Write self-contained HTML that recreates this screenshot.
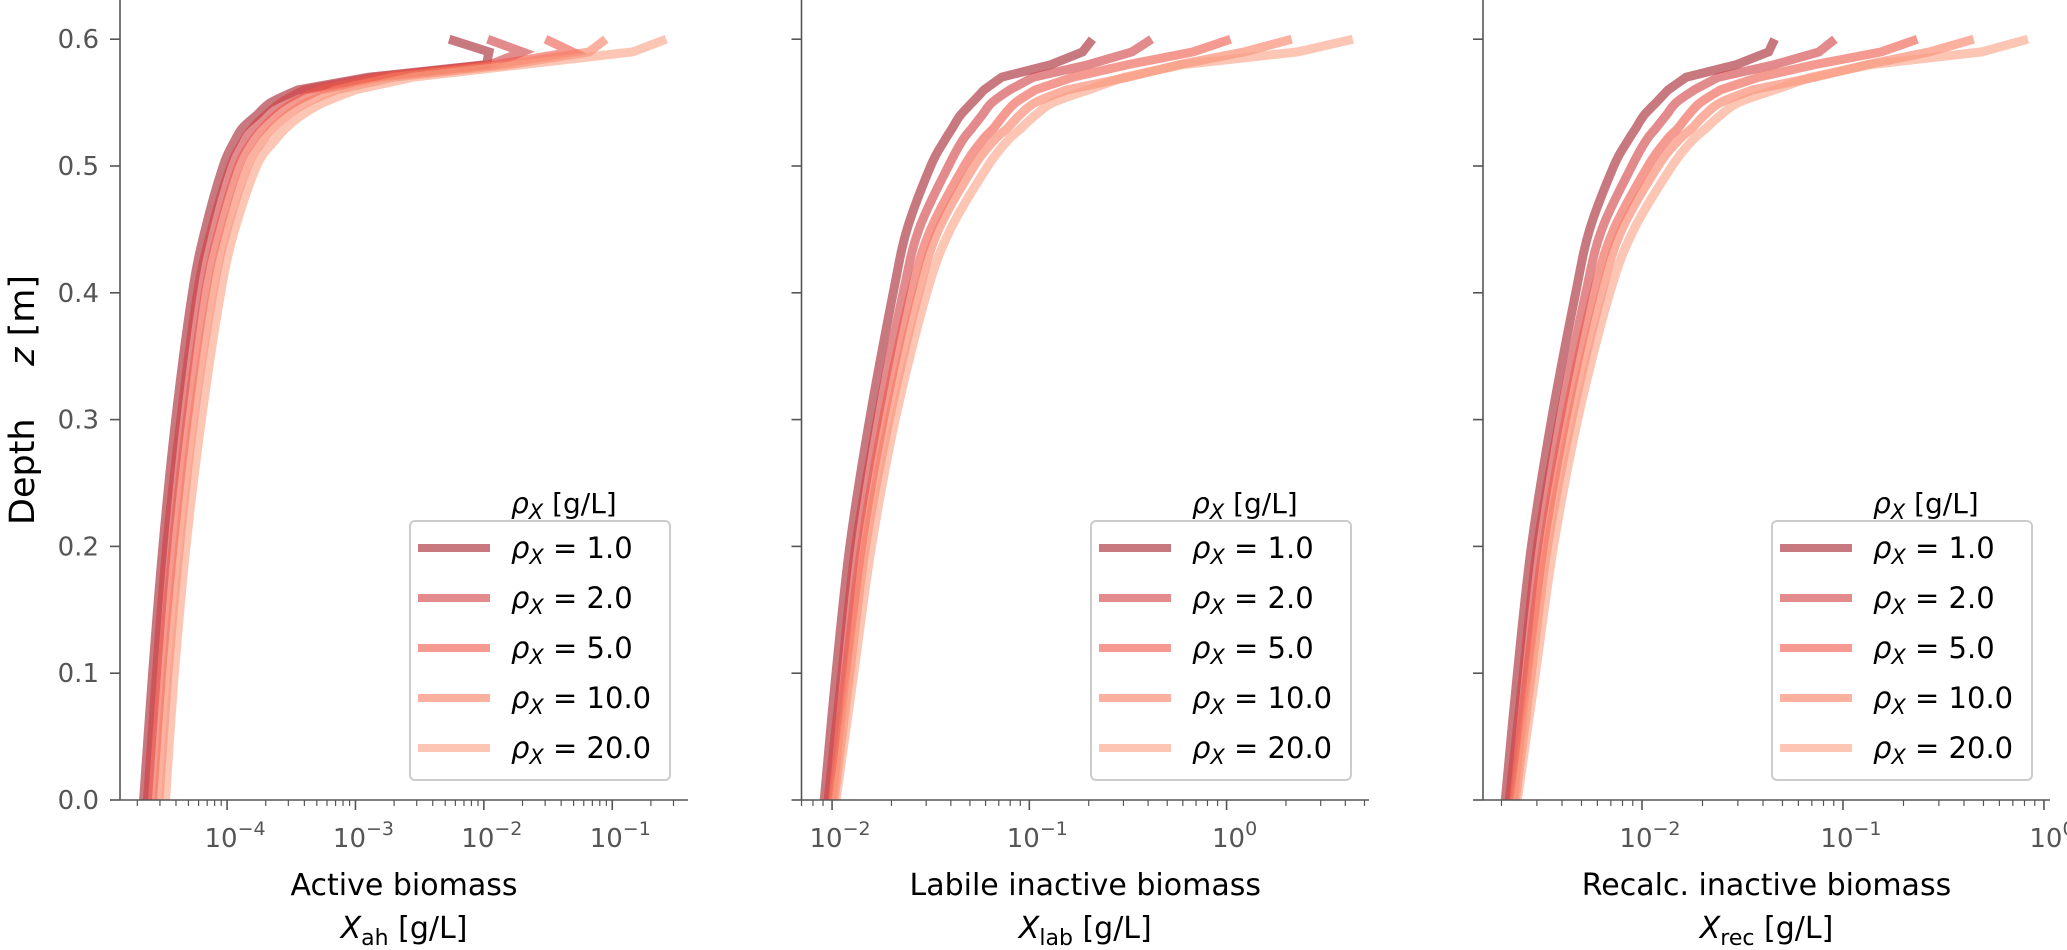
<!DOCTYPE html>
<html><head><meta charset="utf-8"><style>
html,body{margin:0;padding:0;background:#fff;}
svg{display:block;font-family:"DejaVu Sans","Liberation Sans",sans-serif;}
</style></head><body>
<svg id="chart" width="2067" height="950" viewBox="0 0 2067 950" xmlns="http://www.w3.org/2000/svg"></svg>
<script>
// ---- data ----
const depths = [0,0.1,0.2,0.3,0.4,0.45,0.5,0.52,0.53,0.54,0.55,0.56,0.57,0.58,0.59,0.6];
const rhoLabels = ["1.0","2.0","5.0","10.0","20.0"];
const yTicks = [0.0,0.1,0.2,0.3,0.4,0.5,0.6];
const yTickLabels = ["0.0","0.1","0.2","0.3","0.4","0.5","0.6"];
// log10 values of concentration per series
const activeLog = [
 [-4.65,-4.58,-4.50,-4.40,-4.27,-4.17,-4.03,-3.94,-3.88,-3.77,-3.66,-3.45,-2.90,-1.98,-1.96,-2.27],
 [-4.62,-4.55,-4.47,-4.36,-4.23,-4.12,-3.97,-3.87,-3.80,-3.70,-3.58,-3.40,-2.85,-1.95,-1.70,-1.97],
 [-4.58,-4.51,-4.42,-4.31,-4.17,-4.06,-3.91,-3.80,-3.72,-3.62,-3.48,-3.28,-2.80,-1.90,-1.31,-1.52],
 [-4.53,-4.46,-4.37,-4.26,-4.11,-4.00,-3.84,-3.72,-3.64,-3.53,-3.38,-3.15,-2.70,-1.80,-1.18,-1.05],
 [-4.48,-4.41,-4.32,-4.20,-4.05,-3.94,-3.77,-3.63,-3.54,-3.42,-3.25,-3.00,-2.55,-1.70,-0.84,-0.58]
];
const labileLog = [
 [-2.04,-1.98,-1.91,-1.81,-1.69,-1.62,-1.50,-1.43,-1.39,-1.35,-1.29,-1.23,-1.14,-0.89,-0.73,-0.68],
 [-2.02,-1.95,-1.88,-1.77,-1.64,-1.56,-1.41,-1.34,-1.29,-1.24,-1.19,-1.10,-0.98,-0.70,-0.48,-0.38],
 [-2.00,-1.93,-1.85,-1.74,-1.60,-1.50,-1.33,-1.24,-1.18,-1.13,-1.07,-0.97,-0.78,-0.50,-0.17,0.02],
 [-1.99,-1.91,-1.83,-1.71,-1.56,-1.46,-1.28,-1.18,-1.11,-1.05,-0.97,-0.81,-0.50,-0.24,0.09,0.33],
 [-1.98,-1.89,-1.80,-1.68,-1.52,-1.40,-1.21,-1.11,-1.04,-0.97,-0.88,-0.70,-0.52,-0.22,0.36,0.64]
];
const recalcLog = [
 [-2.68,-2.62,-2.55,-2.45,-2.33,-2.26,-2.14,-2.07,-2.03,-1.99,-1.93,-1.87,-1.78,-1.53,-1.37,-1.34],
 [-2.66,-2.59,-2.52,-2.41,-2.28,-2.20,-2.05,-1.98,-1.93,-1.88,-1.83,-1.74,-1.62,-1.34,-1.12,-1.04],
 [-2.64,-2.57,-2.49,-2.38,-2.24,-2.14,-1.97,-1.88,-1.82,-1.77,-1.71,-1.61,-1.42,-1.14,-0.81,-0.63],
 [-2.63,-2.55,-2.47,-2.35,-2.20,-2.10,-1.92,-1.82,-1.75,-1.69,-1.61,-1.45,-1.14,-0.88,-0.57,-0.35],
 [-2.62,-2.53,-2.44,-2.32,-2.16,-2.04,-1.85,-1.75,-1.68,-1.61,-1.52,-1.34,-1.16,-0.86,-0.31,-0.08]
];
const majorDecades1 = [-4,-3,-2,-1];
const majorDecades2 = [-2,-1,0];
const majorDecades3 = [-2,-1,0];

// ---- styling / layout ----
const colors = ["rgb(163,30,42)","rgb(208,60,63)","rgb(237,87,72)","rgb(248,123,97)","rgb(250,158,130)"];
const NS = "http://www.w3.org/2000/svg";
const svg = document.getElementById("chart");
function mk(tag, attrs, parent){ const e=document.createElementNS(NS,tag); for(const k in attrs) e.setAttribute(k,attrs[k]); (parent||svg).appendChild(e); return e; }
const Y0 = 800, YPX = 1268;
function yS(z){ return Y0 - z*YPX; }
const SMOOTH_END = 11; // smooth up to this index, straight segments afterwards

function buildPath(P){
  let d = "M"+P[0][0].toFixed(1)+","+P[0][1].toFixed(1);
  for(let i=0;i<P.length-1;i++){
    if(i < SMOOTH_END){
      const p0 = P[Math.max(i-1,0)], p1=P[i], p2=P[i+1], p3=P[Math.min(i+2,SMOOTH_END)];
      const c1x = p1[0]+(p2[0]-p0[0])/6, c1y = p1[1]+(p2[1]-p0[1])/6;
      const c2x = p2[0]-(p3[0]-p1[0])/6, c2y = p2[1]-(p3[1]-p1[1])/6;
      d += " C"+c1x.toFixed(1)+","+c1y.toFixed(1)+" "+c2x.toFixed(1)+","+c2y.toFixed(1)+" "+p2[0].toFixed(1)+","+p2[1].toFixed(1);
    } else {
      d += " L"+P[i+1][0].toFixed(1)+","+P[i+1][1].toFixed(1);
    }
  }
  return d;
}

const panels = [
 {key:"active", x0:120, x1:688, lmin:-4.834, lmax:-0.41, data:activeLog, majors:majorDecades1, t1:"Active biomass", sub:"ah", showY:true},
 {key:"labile", x0:801.5, x1:1369, lmin:-2.155, lmax:0.722, data:labileLog, majors:majorDecades2, t1:"Labile inactive biomass", sub:"lab", showY:false},
 {key:"recalc", x0:1483, x1:2050, lmin:-2.791, lmax:0.03, data:recalcLog, majors:majorDecades3, t1:"Recalc. inactive biomass", sub:"rec", showY:false}
];

panels.forEach((p)=>{
  const xS = l => p.x0 + (l - p.lmin)/(p.lmax - p.lmin)*(p.x1 - p.x0);
  const g = mk("g",{});
  
  
  p.data.forEach((ser,si)=>{
    const P = ser.map((v,i)=>[xS(v), yS(depths[i])]);
    const pl = mk("path",{d:buildPath(P), fill:"none", stroke:colors[si], "stroke-opacity":"0.6","stroke-width":"9","stroke-linejoin":"miter","stroke-linecap":"butt"}, g);
    
    
  });
  const ys = mk("line",{x1:p.x0,y1:0,x2:p.x0,y2:Y0,stroke:"#555","stroke-width":"1.6"},g);
  
  
  const xs = mk("line",{x1:p.x0,y1:Y0,x2:p.x1,y2:Y0,stroke:"#555","stroke-width":"1.6"},g);
  
  
  yTicks.forEach((t,i)=>{
    mk("line",{x1:p.x0-10,y1:yS(t),x2:p.x0,y2:yS(t),stroke:"#555","stroke-width":"1.6"},g);
    if(p.showY){
      const tx = mk("text",{x:p.x0-21,y:yS(t)+9,"text-anchor":"end","font-size":"26",fill:"#555"},g);
      tx.textContent = yTickLabels[i];
      
      
    }
  });
  for(let d=Math.floor(p.lmin); d<=Math.ceil(p.lmax); d++){
    for(let m=1;m<=9;m++){
      const l = d + Math.log10(m);
      if(l < p.lmin-1e-6 || l > p.lmax+1e-6) continue;
      const len = m===1 ? 10 : 6;
      mk("line",{x1:xS(l),y1:Y0,x2:xS(l),y2:Y0+len,stroke:"#555","stroke-width":m===1?"1.6":"1.2"},g);
    }
  }
  p.majors.forEach(d=>{
    const t = mk("text",{x:xS(d)+8,y:Y0+47,"text-anchor":"middle","font-size":"26",fill:"#555"},g);
    
    
    const a = mk("tspan",{},t); a.textContent="10";
    const b = mk("tspan",{dy:"-12","font-size":"19"},t); b.textContent = d===0 ? "0" : "\u2212"+Math.abs(d);
  });
  const cx = (p.x0+p.x1)/2;
  const t1 = mk("text",{x:cx,y:895,"text-anchor":"middle","font-size":"30",fill:"#000"},g);
  t1.textContent = p.t1;
  
  
  const t2 = mk("text",{x:cx,y:938,"text-anchor":"middle","font-size":"30",fill:"#000"},g);
  
  
  const s1 = mk("tspan",{"font-style":"italic"},t2); s1.textContent="X";
  const s2 = mk("tspan",{dy:"7","font-size":"22"},t2); s2.textContent=p.sub;
  const s3 = mk("tspan",{dy:"-7"},t2); s3.textContent=" [g/L]";
  const lx = p.x1 - 18 - 260;
  const lg = mk("g",{},g);
  
  
  const tt = mk("text",{x:lx+101,y:513,"font-size":"28",fill:"#000"},lg);
  
  
  const r1 = mk("tspan",{"font-style":"italic"},tt); r1.textContent="ρ";
  const r2 = mk("tspan",{dy:"6","font-size":"21","font-style":"italic"},tt); r2.textContent="X";
  const r3 = mk("tspan",{dy:"-6"},tt); r3.textContent=" [g/L]";
  mk("rect",{x:lx,y:521,width:260,height:259,rx:5,fill:"#fff","fill-opacity":"0.8",stroke:"#ccc","stroke-width":"2"},lg);
  rhoLabels.forEach((r,i)=>{
    const yy = 548 + 50*i;
    const e = mk("g",{},lg);
    
    
    mk("line",{x1:lx+8,y1:yy,x2:lx+80,y2:yy,stroke:colors[i],"stroke-opacity":"0.6","stroke-width":"8"},e);
    const lt = mk("text",{x:lx+101,y:yy+10,"font-size":"29",fill:"#000"},e);
    const a = mk("tspan",{"font-style":"italic"},lt); a.textContent="ρ";
    const b = mk("tspan",{dy:"6","font-size":"21","font-style":"italic"},lt); b.textContent="X";
    const c = mk("tspan",{dy:"-6"},lt); c.textContent=" = "+r;
  });
});
const yt = mk("text",{x:0,y:0,transform:"translate(34,400) rotate(-90)","text-anchor":"middle","font-size":"35",fill:"#000"});


const ya = mk("tspan",{},yt); ya.textContent="Depth\u2003\u2002";
const yb = mk("tspan",{"font-style":"italic"},yt); yb.textContent="z";
const yc = mk("tspan",{},yt); yc.textContent=" [m]";
</script>
</body></html>
